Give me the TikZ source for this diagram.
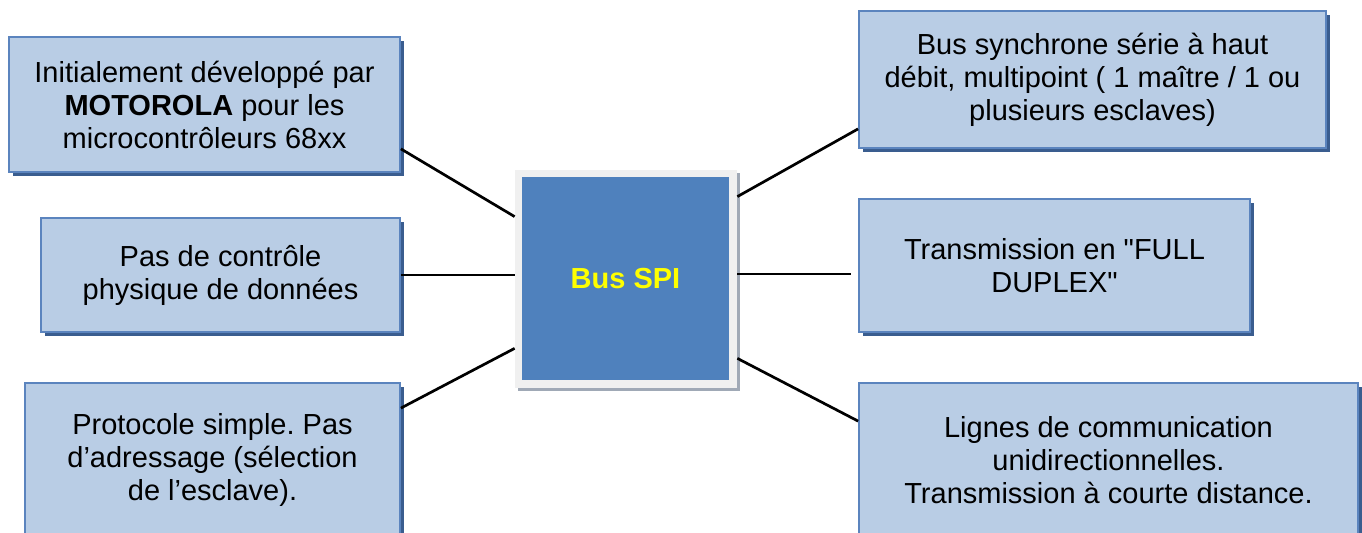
\documentclass[tikz,border=0pt]{standalone}
\usepackage{fontspec}
\setmainfont{Liberation Sans}[Ligatures=TeXOff]
\usetikzlibrary{positioning, shadows, calc}
\definecolor{boxfill}{HTML}{B9CDE5}
\definecolor{boxline}{HTML}{5B84BE}
\definecolor{boxshadow}{HTML}{3A5D8F}
\definecolor{busblue}{HTML}{4F81BD}
\definecolor{busframe}{HTML}{F0F0F0}
\definecolor{busshadow}{HTML}{A0A9B6}
\definecolor{busyellow}{HTML}{FFFF00}
\frenchspacing

\begin{document}
\begin{tikzpicture}[
    x=0.5pt, y=-0.5pt,
    info/.style={
        rectangle, fill=boxfill, draw=boxline, line width=0.9pt,
        inner sep=0pt, align=center,
        font=\fontsize{14.5}{16.5}\selectfont,
        drop shadow={shadow xshift=1.8pt, shadow yshift=-1.8pt,
            fill=boxshadow, opacity=1}
    },
    hub/.style={
        rectangle, fill=busframe, inner sep=0pt,
        drop shadow={shadow xshift=1.5pt, shadow yshift=-1.5pt,
            fill=busshadow, opacity=1}
    },
    hubtxt/.style={
        rectangle, fill=busblue, inner sep=0pt,
        font=\fontsize{14.5}{16.5}\selectfont\bfseries, text=busyellow
    },
    link/.style={
        line width=1.35pt, color=black
    }
]

% Page frame (pixel grid of the reference, y pointing down)
\useasboundingbox (0,0) rectangle (1362,533);

% Left column
\node[info, minimum width=195.5pt, minimum height=67.5pt] (init) at (204.5,104.5)
    {Initialement développé par\\\textbf{MOTOROLA} pour les\\microcontrôleurs 68xx};
\node[info, minimum width=179.5pt, minimum height=57pt] (ctrl) at (220.5,275)
    {Pas de contrôle\\physique de données};
\node[info, minimum width=187.5pt, minimum height=77pt] (proto) at (212.5,460)
    {Protocole simple. Pas\\d’adressage (sélection\\de l’esclave).};

% Right column
\node[info, minimum width=233.5pt, minimum height=68.5pt] (sync) at (1092.5,79.5)
    {Bus synchrone série à haut\\débit, multipoint ( 1 maître / 1 ou\\plusieurs esclaves)};
\node[info, minimum width=195.5pt, minimum height=66.5pt] (duplex) at (1054.5,265.5)
    {Transmission en "FULL\\DUPLEX"};
\node[info, minimum width=249.5pt, minimum height=77pt] (lignes) at (1108.5,460)
    {Lignes de communication\\unidirectionnelles.\\Transmission à courte distance.};

% Central block
\node[hub, minimum width=111pt, minimum height=109pt] (hubframe) at (626,279) {};
\node[hubtxt, minimum width=103.5pt, minimum height=101.5pt] (bus) at (625.5,278.5)
    {\raisebox{-2.5pt}{Bus SPI}};

% Connectors
\draw[link] ([yshift=12pt]init.south east) -- ([yshift=-23.5pt]hubframe.north west);
\draw[link] (ctrl.east) -- (hubframe.west |- ctrl.east);
\draw[link] ([yshift=-13pt]proto.north east) -- ([yshift=20pt]hubframe.south west);
\draw[link] ([yshift=-13.5pt]hubframe.north east) -- ([yshift=10pt]sync.south west);
\draw[link] ([yshift=2.5pt]hubframe.east) -- ([xshift=-3.5pt, yshift=-4.25pt]duplex.west);
\draw[link] ([yshift=15pt]hubframe.south east) -- ([yshift=-19.5pt]lignes.north west);

\end{tikzpicture}
\end{document}
